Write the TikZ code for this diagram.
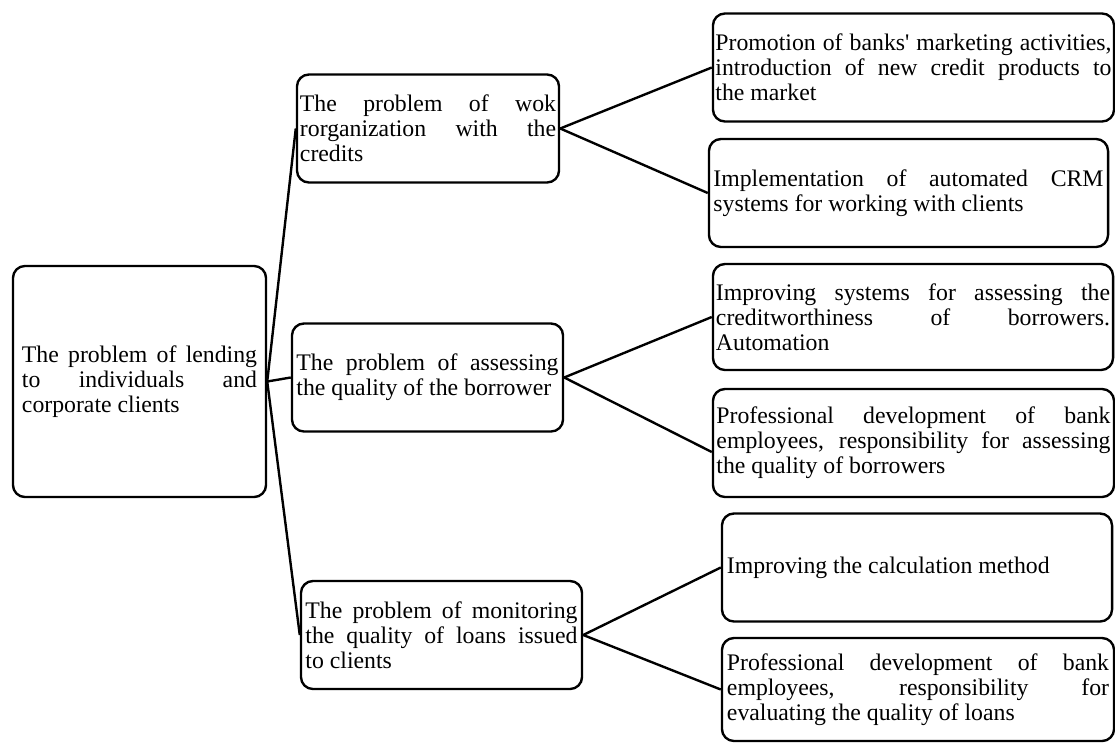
\documentclass[tikz,border=0pt]{standalone}
\usepackage{fontspec}
\setmainfont{Liberation Serif}
\tikzset{
  box/.style = {
    draw,
    rounded corners=0.3cm,
    line width=1.7pt,
    inner sep=0pt,
    minimum height=2.7cm,
    align=justify,
    font=\fontsize{16.9}{17.8}\selectfont
  },
  link/.style = {line width=1.7pt},
}
\begin{document}
\begin{tikzpicture}[x=0.025cm,y=-0.025cm]
  \useasboundingbox (0,0) rectangle (1115,742);
  % root
  \node[box,minimum width=6.325cm,minimum height=5.775cm,text width=5.875cm] (root) at (139.5,381.5)
    {The problem of lending\linebreak to individuals and\linebreak corporate clients};
  % problems
  \node[box,minimum width=6.55cm,text width=6.4cm] (b1) at (428,128.5)
    {The problem of wok\linebreak rorganization with the\linebreak credits};
  \node[box,minimum width=6.775cm,text width=6.55cm] (b2) at (427.5,377.5)
    {The problem of assessing\linebreak the quality of the borrower};
  \node[box,minimum width=7.025cm,text width=6.8cm] (b3) at (441.5,635)
    {The problem of monitoring\linebreak the quality of loans issued\linebreak to clients};
  % measures
  \node[box,minimum width=10.025cm,text width=9.9cm] (c1) at (913.5,67.5)
    {Promotion of banks\textquotesingle{} marketing activities,\linebreak introduction of new credit products to\linebreak the market};
  \node[box,minimum width=9.975cm,text width=9.75cm] (c2) at (908.5,193)
    {Implementation of automated CRM\linebreak systems for working with clients};
  \node[box,minimum width=10cm,minimum height=2.65cm,text width=9.85cm] (c3) at (913,317)
    {Improving systems for assessing the\linebreak creditworthiness of borrowers.\linebreak Automation};
  \node[box,minimum width=10.025cm,text width=9.85cm] (c4) at (913.5,443)
    {Professional development of bank\linebreak employees, responsibility for assessing\linebreak the quality of borrowers};
  \node[box,minimum width=9.75cm,text width=9.5cm] (c5) at (917,567.5)
    {Improving the calculation method};
  \node[box,minimum width=9.8cm,minimum height=2.575cm,text width=9.55cm] (c6) at (918,689.5)
    {Professional development of bank\linebreak employees, responsibility for\linebreak evaluating the quality of loans};
  % connectors
  \foreach \b in {b1,b2,b3} {%
    \draw[link] (root.east) -- (\b.west);
  }
  \foreach \p/\c in {b1/c1,b1/c2,b2/c3,b3/c5,b3/c6} {%
    \draw[link] (\p.east) -- (\c.west);
  }
  \draw[link] (b2.east) -- ([yshift=-0.225cm]c4.west);
\end{tikzpicture}
\end{document}
